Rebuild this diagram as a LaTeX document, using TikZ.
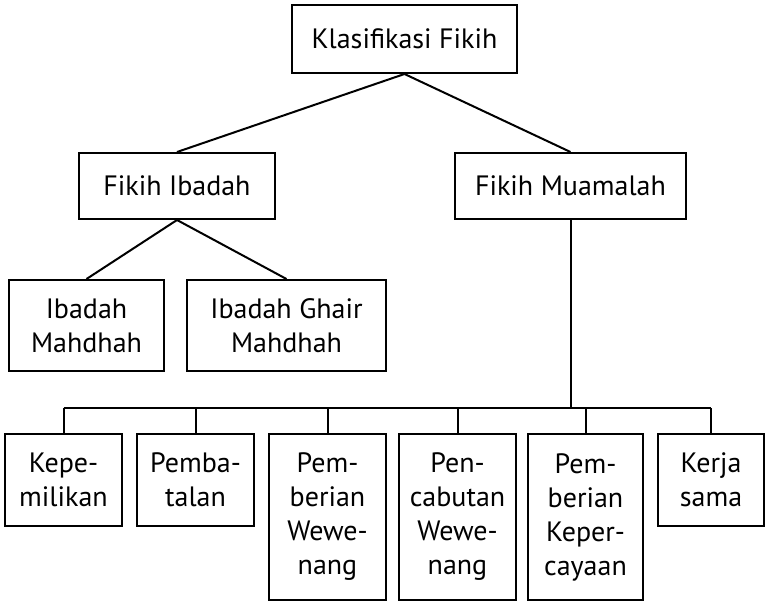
\documentclass[tikz,border=0pt]{standalone}
\usepackage{fontspec}
\setmainfont{PT Sans}
\usepackage{tikz}
\usetikzlibrary{calc}

\begin{document}
\begin{tikzpicture}[
    x=1pt, y=-1pt,
    % Define the style for the boxes
    box/.style={draw, rectangle, align=center, inner sep=0pt,
        font={\fontsize{28}{34}\selectfont}},
    % Define the thickness of the edges
    line width=2pt
]

    % --- Configuration ---
    \def\rowtop{433} % Top of the lowest row
    \def\busy{408}   % Height of the horizontal bus

    \useasboundingbox (0,0) rectangle (765,600);

    % --- Upper levels ---
    \node[box, minimum width=225pt, minimum height=68pt] (fikih) at (404.5,39) {Klasifikasi Fikih};
    \node[box, minimum width=196pt, minimum height=66pt] (ibadah) at (177,186) {Fikih Ibadah};
    \node[box, minimum width=231pt, minimum height=66pt] (muamalah) at (570.5,186) {Fikih Muamalah};
    \node[box, minimum width=155pt, minimum height=91pt] (mahdhah) at (86.5,325.5) {Ibadah\\Mahdhah};
    \node[box, minimum width=199pt, minimum height=91pt] (ghair) at (286.5,325.5) {Ibadah Ghair\\Mahdhah};

    \draw (fikih.south) -- (ibadah.north);
    \draw (fikih.south) -- (muamalah.north);
    \draw (ibadah.south) -- (mahdhah.north);
    \draw (ibadah.south) -- (ghair.north);

    % --- Lowest row (Fikih Muamalah) ---
    % Each entry: centre x / width / height / text
    \foreach \cx/\w/\h/\txt [count=\i] in {
        63.5/117/92/{Kepe-\\milikan},
        195.5/117/92/{Pemba-\\talan},
        327.5/117/166/{Pem-\\berian\\Wewe-\\nang},
        457.5/117/166/{Pen-\\cabutan\\Wewe-\\nang},
        585.5/115/166/{Pem-\\berian\\Keper-\\cayaan},
        711/106/92/{Kerja\\sama}} {
        \node[box, anchor=north, minimum width=\w pt, minimum height=\h pt] (M\i) at (\cx,\rowtop) {\txt};
    }

    % Draw the bus and its drops
    \coordinate (busL) at (M1.north |- 0,\busy);
    \coordinate (busR) at (M6.north |- 0,\busy);
    \draw (muamalah.south) -- (muamalah.south |- busL);
    \draw (busL) -- (busR);
    \foreach \i in {1,...,6} {
        \draw (M\i.north) -- (M\i.north |- busL);
    }

\end{tikzpicture}
\end{document}
